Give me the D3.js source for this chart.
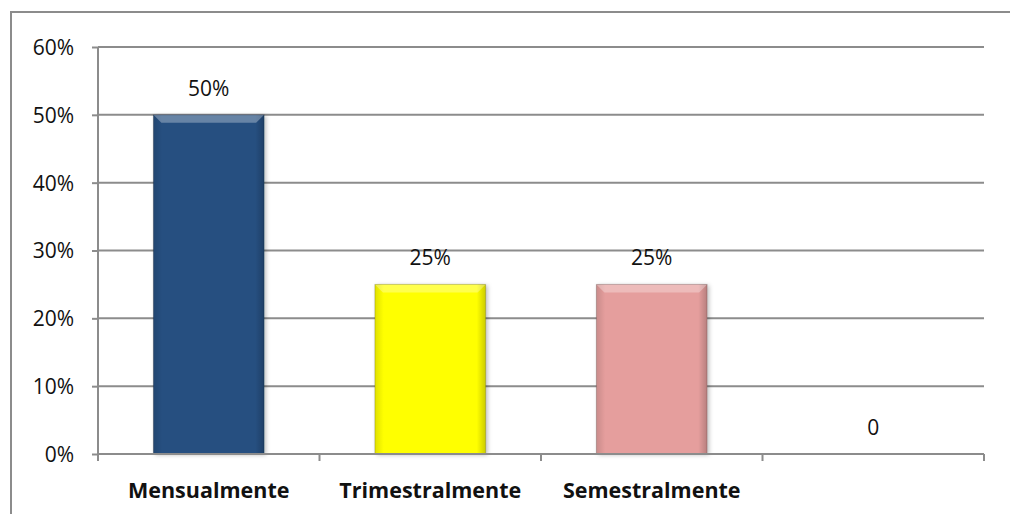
<!DOCTYPE html>
<html><head><meta charset="utf-8">
<script src="https://cdn.jsdelivr.net/npm/d3@7"></script>
<style>body{margin:0;background:#fff}svg{display:block}</style>
</head><body>
<svg id="c" width="1010" height="514"></svg>
<script>
const categories = ["Mensualmente", "Trimestralmente", "Semestralmente", ""];
const values = [0.50, 0.25, 0.25, 0];
const valueLabels = ["50%", "25%", "25%", "0"];
const colors = ["#264F80", "#FFFF00", "#E59E9D"];
const yTicks = [0, 0.1, 0.2, 0.3, 0.4, 0.5, 0.6];

const svg = d3.select("#c");
const font = "'Open Sans', 'Liberation Sans', sans-serif";
// outer border
svg.append("path").attr("d", "M11,514 V12 H1010").attr("fill","none").attr("stroke","#8c8c8c").attr("stroke-width",2);

const x = d3.scaleBand().domain(d3.range(categories.length)).range([98, 984]).paddingInner(0.5).paddingOuter(0.25);
const y = d3.scaleLinear().domain([0, 0.6]).range([454, 47]);

const defs = svg.append("defs");
colors.forEach((c, i) => {
  const s = defs.append("linearGradient").attr("id","s"+i).attr("x1",0).attr("y1",0).attr("x2",1).attr("y2",0);
  s.append("stop").attr("offset",0).attr("stop-color","#000").attr("stop-opacity",0.12);
  s.append("stop").attr("offset",0.08).attr("stop-color","#000").attr("stop-opacity",0);
  s.append("stop").attr("offset",0.92).attr("stop-color","#000").attr("stop-opacity",0);
  s.append("stop").attr("offset",1).attr("stop-color","#000").attr("stop-opacity",0.2);
});
const f = defs.append("filter").attr("id","sh").attr("x","-10%").attr("y","-10%").attr("width","130%").attr("height","130%");
f.append("feDropShadow").attr("dx",2).attr("dy",1).attr("stdDeviation",2).attr("flood-color","#000").attr("flood-opacity",0.25);

// gridlines
svg.append("g").selectAll("line").data(yTicks.filter(t=>t>0)).join("line")
  .attr("x1",98).attr("x2",984).attr("y1",d=>y(d)).attr("y2",d=>y(d))
  .attr("stroke","#8c8c8c").attr("stroke-width",2);

// y axis
const ya = svg.append("g").attr("transform","translate(98,0)")
  .call(d3.axisLeft(y).tickValues(yTicks).tickFormat(d3.format(".0%")).tickSize(6).tickPadding(18));
ya.select(".domain").attr("stroke","#8c8c8c").attr("stroke-width",2).attr("d","M0,454V47");
ya.selectAll(".tick line").attr("stroke","#8c8c8c").attr("stroke-width",2);
ya.selectAll("text").attr("font-family",font).attr("font-size",21).attr("fill","#111").attr("dy","0.35em");

// bars
const bars = svg.append("g");
values.forEach((v, i) => {
  if (v <= 0) return;
  const bx = x(i), bw = x.bandwidth(), by = y(v), bh = y(0) - y(v);
  bars.append("rect").attr("x",bx).attr("y",by).attr("width",bw).attr("height",bh)
    .attr("fill",colors[i]).attr("filter","url(#sh)");
  bars.append("rect").attr("x",bx).attr("y",by).attr("width",bw).attr("height",bh).attr("fill","url(#s"+i+")");
  bars.append("path").attr("d",`M${bx},${by}H${bx+bw}L${bx+bw-8},${by+8}H${bx+8}Z`).attr("fill","#fff").attr("opacity",0.3);
  bars.append("rect").attr("x",bx).attr("y",by).attr("width",bw).attr("height",bh)
    .attr("fill","none").attr("stroke","#000").attr("stroke-opacity",0.2).attr("stroke-width",1);
});

// x axis
const xa = svg.append("g").attr("transform","translate(0,454)");
xa.append("line").attr("x1",98).attr("x2",984).attr("stroke","#8c8c8c").attr("stroke-width",2);
const bounds = d3.range(categories.length + 1).map(i => 98 + i * (984 - 98) / categories.length);
xa.selectAll("line.t").data(bounds).join("line").attr("class","t")
  .attr("x1",d=>d).attr("x2",d=>d).attr("y1",0).attr("y2",7).attr("stroke","#8c8c8c").attr("stroke-width",2);
xa.selectAll("text").data(categories).join("text")
  .attr("x",(d,i)=>x(i)+x.bandwidth()/2).attr("y",44).attr("text-anchor","middle")
  .attr("font-family",font).attr("font-weight","bold").attr("font-size",21.5).attr("fill","#111").text(d=>d);

// data labels
svg.append("g").selectAll("text").data(values).join("text")
  .attr("x",(d,i)=>x(i)+x.bandwidth()/2).attr("y",d=>y(d)-19).attr("text-anchor","middle")
  .attr("font-family",font).attr("font-size",21).attr("fill","#111").text((d,i)=>valueLabels[i]);
</script>
</body></html>
